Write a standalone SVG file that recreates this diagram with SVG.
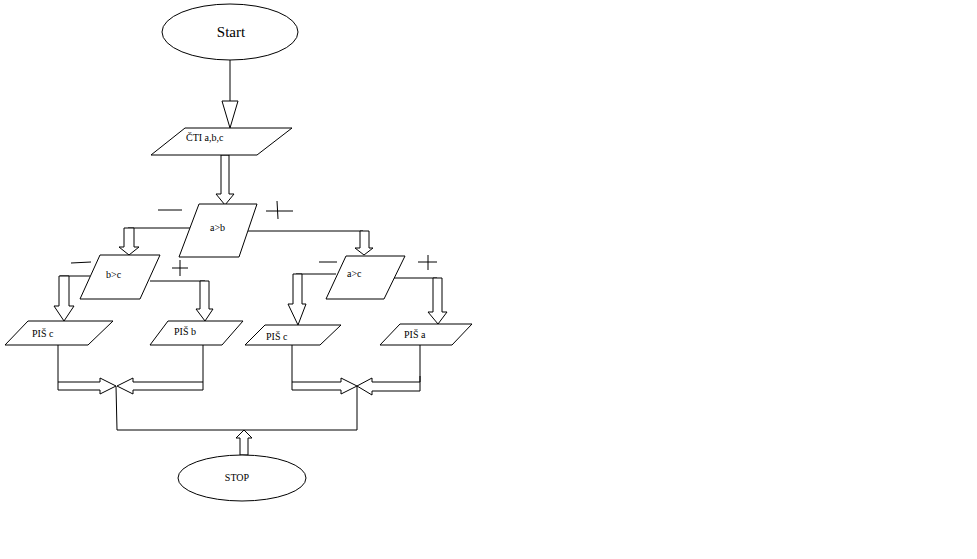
<svg xmlns="http://www.w3.org/2000/svg" width="977" height="559" viewBox="0 0 977 559">
<style>
.s{fill:#fff;stroke:#000;stroke-width:1}
.l{fill:none;stroke:#000;stroke-width:1}
.t{font-family:"Liberation Serif",serif;font-size:10px;fill:#000}
</style>
<rect width="977" height="559" fill="#fff"/>
<g id="connectors">
<line class="l" x1="230" y1="60" x2="230" y2="101"/>
<polygon class="s" points="222,101 238,101 230,128"/>
<polygon class="s" points="221,155 229,155 229,194 234,194 225,205 216,194 221,194"/>
<polyline class="l" points="190,228 128,228"/>
<polygon class="s" points="124,228 134,228 134,247 139,247 129,255 119,247 124,247"/>
<polyline class="l" points="248,231 363,231"/>
<polygon class="s" points="360,231 369,231 369,248 373,248 364,255 355,248 360,248"/>
<polyline class="l" points="90,276 60,276"/>
<polygon class="s" points="59,276 69,276 69,306 74,306 64,321 54,306 59,306"/>
<polyline class="l" points="150,281 205,281"/>
<polygon class="s" points="200,281 209,281 209,309 213,309 205,321 196,309 200,309"/>
<polyline class="l" points="336,274 296,274"/>
<polygon class="s" points="293,274 302,274 302,304 306,304 298,325 288,304 293,304"/>
<polyline class="l" points="393,278 437,278"/>
<polygon class="s" points="433,278 442,278 442,312 447,312 438,324 428,312 433,312"/>
<line class="l" x1="58" y1="345" x2="58" y2="382"/>
<polygon class="s" points="58,382 100,382 100,378 116,386 100,394 100,390 58,390"/>
<line class="l" x1="203" y1="345" x2="203" y2="382"/>
<polygon class="s" points="203,382 133,382 133,378 117,386 133,394 133,390 203,390"/>
<line class="l" x1="292" y1="345" x2="292" y2="382"/>
<polygon class="s" points="292,382 341,382 341,378 357,386 341,394 341,390 292,390"/>
<line class="l" x1="420" y1="345" x2="420" y2="376"/>
<polygon class="s" points="420,376 420,391 372,391 372,395 357,386 372,378 372,382 420,382"/>
<polyline class="l" points="116,386 117,430 357,430 357,386"/>
<polygon class="s" points="240,455 248,455 248,438 252,438 244,430 236,438 240,438"/>
</g>
<g id="start"><ellipse class="s" cx="230" cy="32" rx="68" ry="28"/><text class="t" x="231" y="37" text-anchor="middle" style="font-size:15px">Start</text></g>
<g id="read"><polygon class="s" points="185,128 292,128 257,155 151,155"/><text class="t" x="186" y="141">ČTI a,b,c</text></g>
<g id="ab"><polygon class="s" points="199,204 257,204 239,257 179,257"/><text class="t" x="210" y="231">a&gt;b</text></g>
<g id="bc"><polygon class="s" points="100,255 160,255 140,299 80,299"/><text class="t" x="106" y="278">b&gt;c</text></g>
<g id="ac"><polygon class="s" points="346,256 405,256 384,299 326,299"/><text class="t" x="347" y="277">a&gt;c</text></g>
<g id="out1"><polygon class="s" points="28,321 113,321 88,345 5,345"/><text class="t" x="32" y="337">PIŠ  c</text></g>
<g id="out2"><polygon class="s" points="168,321 243,321 222,345 150,345"/><text class="t" x="174" y="335">PIŠ  b</text></g>
<g id="out3"><polygon class="s" points="265,325 341,325 320,345 245,345"/><text class="t" x="266" y="340">PIŠ  c</text></g>
<g id="out4"><polygon class="s" points="400,324 472,324 452,345 380,345"/><text class="t" x="404" y="338">PIŠ  a</text></g>
<g id="stop"><ellipse class="s" cx="242" cy="478" rx="64" ry="23"/><text class="t" x="237" y="481" text-anchor="middle">STOP</text></g>
<g id="signs" class="l">
<line x1="158" y1="210" x2="182" y2="210"/>
<line x1="266" y1="211" x2="293" y2="211"/><line x1="277" y1="201" x2="278" y2="219"/>
<line x1="71" y1="263" x2="91" y2="262"/>
<line x1="172" y1="268" x2="188" y2="268"/><line x1="180" y1="260" x2="180" y2="276"/>
<line x1="319" y1="262" x2="337" y2="262"/>
<line x1="418" y1="262" x2="437" y2="262"/><line x1="428" y1="255" x2="428" y2="270"/>
</g>
</svg>
